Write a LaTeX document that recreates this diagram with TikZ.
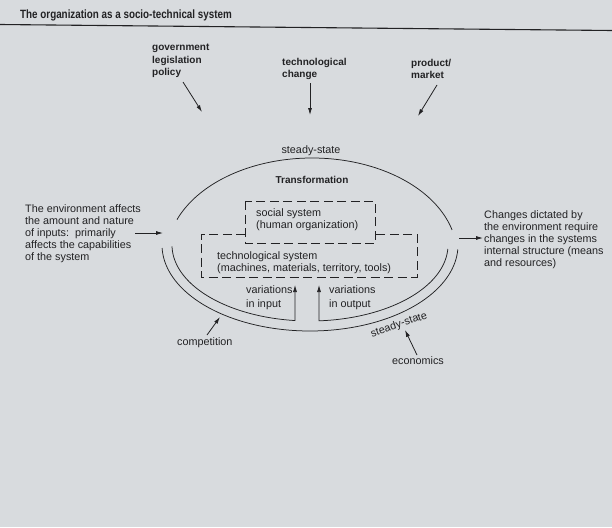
\documentclass[tikz,border=0pt]{standalone}
\usepackage{fontspec}
\setmainfont{Liberation Sans}
\newfontfamily\titlefont[FakeStretch=0.82]{Liberation Sans}
\usetikzlibrary{arrows.meta}
\definecolor{bg}{RGB}{216,219,222}
\definecolor{ink}{RGB}{34,34,36}
\tikzset{
 txt/.style={inner sep=0pt, align=left, anchor=north west, text=ink, font=\fontsize{10.8}{12}\selectfont},
 btxt/.style={txt, font=\bfseries\fontsize{10}{12.5}\selectfont},
 arr/.style={draw=ink, line width=0.8pt, -{Latex[length=7pt,width=4pt]}},
 curve/.style={draw=ink, line width=0.75pt},
 dbox/.style={draw=ink, line width=0.8pt, dash pattern=on 9pt off 4.5pt},
}
\begin{document}
\begin{tikzpicture}[x=1pt,y=-1pt]
\fill[bg] (0,0) rectangle (612,527);
\useasboundingbox (0,0) rectangle (612,527);

% title
\node[txt, anchor=base west, font=\titlefont\bfseries\fontsize{12}{14}\selectfont] (title) at (20,18.5) {The organization as a socio-technical system};
\coordinate (ruleL) at (0,24.5);
\coordinate (ruleR) at (612,30.5);
\draw[ink, line width=1.1pt] (ruleL) -- (ruleR);

% top influences
\node[btxt] (gov) at (152,44.2) {government\\legislation\\policy};
\node[btxt, font=\bfseries\fontsize{10}{12}\selectfont] (tech) at (282,58.2) {technological\\change};
\node[btxt, font=\bfseries\fontsize{10}{12}\selectfont] (prod) at (411,59.2) {product/\\market};
\coordinate (govS) at (183,82);   \coordinate (govE) at (202,112);
\coordinate (techS) at (310,83);  \coordinate (techE) at (310,115);
\coordinate (prodS) at (437,85);  \coordinate (prodE) at (418,116);
\draw[arr] (govS) -- (govE);
\draw[arr] (techS) -- (techE);
\draw[arr] (prodS) -- (prodE);

% oval
\draw[curve] plot[domain=201.4:345, samples=80, smooth] ({312+145*cos(\x)},{255+97*sin(\x)});
\draw[curve] plot[domain=3:178, samples=80, smooth] ({310+148*cos(\x)},{245+86*sin(\x)});
\coordinate (tipL) at (295,285);
\coordinate (tipR) at (319,285);
\draw[arr, line width=0.75pt] plot[domain=179:96.24, samples=60, smooth] ({310+138*cos(\x)},{245+76*sin(\x)}) -- (tipL);
\draw[arr, line width=0.75pt, {Latex[length=7pt,width=4pt]}-] (tipR) -- plot[domain=86.26:3, samples=60, smooth] ({310+138*cos(\x)},{245+76*sin(\x)});

\node[txt, anchor=base] (ss1) at (311,153) {steady-state};
\node[btxt, anchor=base] (trans) at (312,183) {Transformation};
\node[txt, anchor=center, rotate=19] (ss2) at (399,325) {steady-state};

% subsystems
\coordinate (sNW) at (245,201); \coordinate (sSE) at (375,243);
\draw[dbox] (sNW) rectangle (sSE);
\coordinate (tNW) at (201,234); \coordinate (tNE) at (417,234);
\coordinate (tSW) at (201,277); \coordinate (tSE) at (417,277);
\coordinate (tA) at (245,234); \coordinate (tB) at (375,234);
\draw[dbox] (tA) -- (tNW) -- (tSW) -- (tSE) -- (tNE) -- (tB);
\node[txt] (social) at (256,208) {social system\\(human organization)};
\node[txt] (techsys) at (217,251) {technological system\\(machines, materials, territory, tools)};
\node[txt, font=\fontsize{10.8}{14}\selectfont] (varin) at (246,285) {variations\\in input};
\node[txt, font=\fontsize{10.8}{14}\selectfont] (varout) at (329,285) {variations\\in output};

% side texts
\node[txt] (env) at (25,204.2) {The environment affects\\the amount and nature\\of inputs:\ \ primarily\\affects the capabilities\\of the system};
\coordinate (envS) at (135,233); \coordinate (envE) at (163,233);
\draw[arr] (envS) -- (envE);
\node[txt] (chg) at (484,210.2) {Changes dictated by\\the environment require\\changes in the systems\\internal structure (means\\and resources)};
\coordinate (chgS) at (459,238); \coordinate (chgE) at (483,238);
\draw[arr] (chgS) -- (chgE);

% bottom influences
\node[txt, anchor=base west] (comp) at (177,345.5) {competition};
\coordinate (compS) at (207,335); \coordinate (compE) at (220,317);
\draw[arr] (compS) -- (compE);
\node[txt, anchor=base west] (econ) at (392,364.5) {economics};
\coordinate (econS) at (417,355); \coordinate (econE) at (405,330);
\draw[arr] (econS) -- (econE);
\end{tikzpicture}
\end{document}
